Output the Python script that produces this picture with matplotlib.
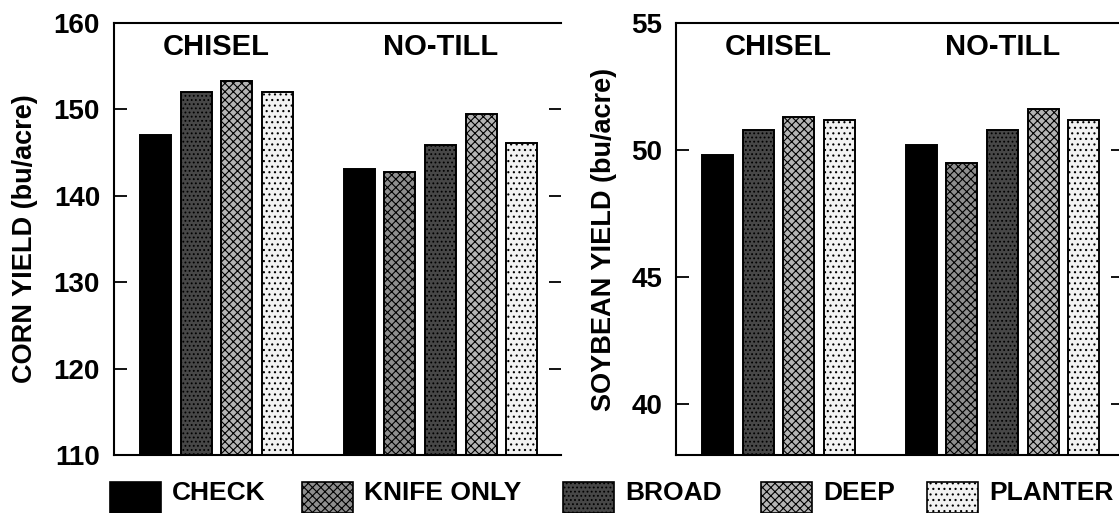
import matplotlib.pyplot as plt
from matplotlib.patches import Rectangle

plt.rcParams['font.family'] = ['Liberation Sans', 'DejaVu Sans']
plt.rcParams['font.weight'] = 'bold'
plt.rcParams['hatch.linewidth'] = 0.8

treatments = ['CHECK', 'KNIFE ONLY', 'BROAD', 'DEEP', 'PLANTER']
fills = ['#000000', '#8e8e8e', '#474747', '#b4b4b4', '#f2f2f2']
hatches = [None, 'xxxx', '....', 'xxxx', '...']

# chisel plots had no knife-only treatment
chisel_trt = ['CHECK', 'BROAD', 'DEEP', 'PLANTER']
notill_trt = ['CHECK', 'KNIFE ONLY', 'BROAD', 'DEEP', 'PLANTER']

corn_chisel = [147.0, 152.0, 153.3, 152.0]
corn_notill = [143.1, 142.8, 145.9, 149.5, 146.1]
soy_chisel = [49.8, 50.8, 51.3, 51.2]
soy_notill = [50.2, 49.5, 50.8, 51.6, 51.2]

W, H = 1119, 513
fig = plt.figure(figsize=(W / 100, H / 100), dpi=100)

ax1 = fig.add_axes([114 / W, 58 / H, 447 / W, 432 / H])
ax2 = fig.add_axes([676 / W, 58 / H, 447 / W, 432 / H])


def draw(ax, chisel, notill, ylim, yticks, ylabel, lab_x):
    pos_c = list(range(len(chisel)))
    pos_n = [5 + i for i in range(len(notill))]
    for p, v, t in zip(pos_c, chisel, chisel_trt):
        i = treatments.index(t)
        ax.bar(p, v - ylim[0], bottom=ylim[0], width=0.76, color=fills[i],
               edgecolor='black', linewidth=1.4, hatch=hatches[i])
    for p, v, t in zip(pos_n, notill, notill_trt):
        i = treatments.index(t)
        ax.bar(p, v - ylim[0], bottom=ylim[0], width=0.76, color=fills[i],
               edgecolor='black', linewidth=1.4, hatch=hatches[i])
    ax.set_xlim(-1.02, 9.96)
    ax.set_ylim(*ylim)
    ax.set_yticks(yticks)
    ax.set_xticks([])
    ax.tick_params(axis='y', direction='in', length=9, width=1.3, right=True,
                   labelsize=20, pad=10)
    for s in ax.spines.values():
        s.set_linewidth(1.5)
    ax.set_ylabel(ylabel, fontsize=19.5, fontweight='bold')
    ax.yaxis.set_label_coords(lab_x, 0.5)
    ax.text(1.5, 0.945, 'CHISEL', transform=ax.get_xaxis_transform(),
            ha='center', va='center', fontsize=21, fontweight='bold')
    ax.text(7.0, 0.945, 'NO-TILL', transform=ax.get_xaxis_transform(),
            ha='center', va='center', fontsize=21, fontweight='bold')


draw(ax1, corn_chisel, corn_notill, (110, 160), [110, 120, 130, 140, 150, 160],
     'CORN YIELD (bu/acre)', -0.17)
ax1.spines['right'].set_visible(False)
draw(ax2, soy_chisel, soy_notill, (38, 55), [40, 45, 50, 55],
     'SOYBEAN YIELD (bu/acre)', -0.132)

# legend along the bottom
patch_x = [110, 302, 563, 761, 927]
for i, name in enumerate(treatments):
    x0 = patch_x[i]
    r = Rectangle((x0 / W, 0 / H), 51 / W, 31 / H, transform=fig.transFigure,
                  facecolor=fills[i], edgecolor='black', linewidth=1.2,
                  hatch=hatches[i])
    fig.add_artist(r)
    fig.text((x0 + 62) / W, 20 / H, name, ha='left', va='center',
             fontsize=19, fontweight='bold')

plt.savefig('out.png', dpi=100)
